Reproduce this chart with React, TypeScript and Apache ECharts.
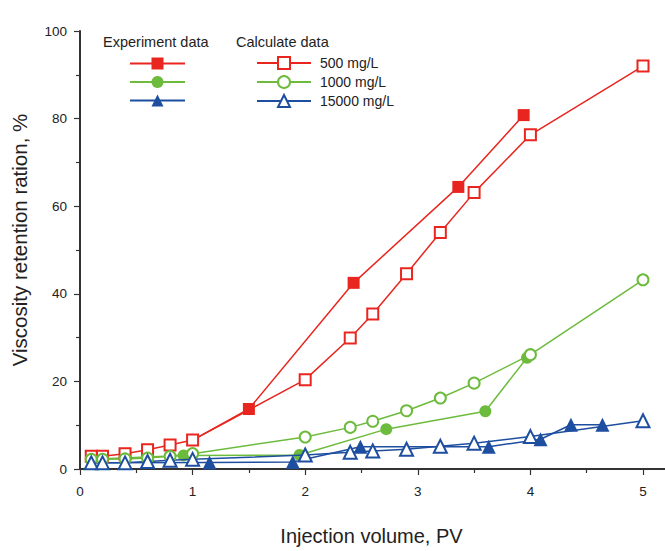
import React, { useEffect, useRef } from "react";
import * as echarts from "echarts";

// Calculated curves share one set of injection volumes (PV)
const calcPV = [0.1, 0.2, 0.4, 0.6, 0.8, 1.0, 2.0, 2.4, 2.6, 2.9, 3.2, 3.5, 4.0, 5.0];
const calc500 = [2.9, 2.9, 3.5, 4.4, 5.5, 6.6, 20.4, 29.9, 35.4, 44.6, 54.0, 63.1, 76.3, 92.0];
const calc1000 = [2.2, 2.2, 2.3, 2.5, 2.9, 3.5, 7.3, 9.5, 10.9, 13.3, 16.2, 19.6, 26.1, 43.2];
const calc15000 = [1.4, 1.4, 1.4, 1.7, 2.0, 2.2, 3.2, 3.8, 4.1, 4.5, 5.2, 5.9, 7.4, 11.0];

// Measured points; each curve starts from a shared point on the calculated curve (no marker)
const exp500PV = [1.0, 1.5, 2.43, 3.36, 3.94];
const exp500 = [6.6, 13.7, 42.5, 64.4, 80.8];
const exp1000PV = [0.1, 0.92, 1.95, 2.72, 3.6, 3.97];
const exp1000 = [2.2, 3.1, 3.2, 9.1, 13.2, 25.4];
const exp15000PV = [0.1, 1.15, 1.89, 2.49, 3.63, 4.09, 4.36, 4.64];
const exp15000 = [1.4, 1.5, 1.6, 5.1, 5.1, 6.8, 10.1, 10.1];

const concentrations = ["500 mg/L", "1000 mg/L", "15000 mg/L"];
const xTicks = [0, 1, 2, 3, 4, 5];

const RED = "#e8261f";
const GREEN = "#6cbb3c";
const BLUE = "#1d4e9f";
const FONT = "'Liberation Sans', Arial, sans-serif";

function pairs(xs: number[], ys: number[], hideFirst: boolean) {
  return xs.map((x, i) =>
    hideFirst && i === 0 ? { value: [x, ys[i]], symbol: "none" } : { value: [x, ys[i]] }
  );
}

export default function App() {
  const ref = useRef<HTMLDivElement>(null);

  useEffect(() => {
    if (!ref.current) return;
    const chart = echarts.init(ref.current, undefined, { renderer: "svg" });

    const expNames = concentrations.map((c) => "Experiment " + c);
    const colors = [RED, GREEN, BLUE];
    const filled = ["rect", "circle", "triangle"];
    const empty = ["emptyRect", "emptyCircle", "emptyTriangle"];
    const sizes = [12, 12, 14];
    const expData = [
      pairs(exp500PV, exp500, true),
      pairs(exp1000PV, exp1000, true),
      pairs(exp15000PV, exp15000, true),
    ];
    const calcData = [calc500, calc1000, calc15000].map((ys) => pairs(calcPV, ys, false));

    const series: any[] = [];
    for (let i = 0; i < 3; i++) {
      series.push({
        name: expNames[i],
        type: "line",
        data: expData[i],
        symbol: filled[i],
        symbolSize: sizes[i],
        color: colors[i],
        lineStyle: { color: colors[i], width: 1.5 },
        itemStyle: { color: colors[i] },
        z: 2,
      });
    }
    for (let i = 0; i < 3; i++) {
      series.push({
        name: concentrations[i],
        type: "line",
        data: calcData[i],
        symbol: empty[i],
        symbolSize: sizes[i] - 1,
        color: colors[i],
        lineStyle: { color: colors[i], width: 1.5 },
        itemStyle: { color: colors[i], borderWidth: 1.6, borderColor: colors[i] },
        z: 3,
      });
    }

    const axisColor = "#333";
    chart.setOption({
      animation: false,
      backgroundColor: "#fff",
      textStyle: { fontFamily: FONT },
      grid: { left: 80, right: 22, top: 31, bottom: 67, containLabel: false },
      legend: [
        {
          data: expNames,
          orient: "vertical",
          left: 129,
          top: 56,
          padding: 0,
          itemWidth: 55,
          itemHeight: 15,
          itemGap: 5,
          formatter: () => "",
          selectedMode: false,
        },
        {
          data: concentrations,
          orient: "vertical",
          left: 256,
          top: 56,
          padding: 0,
          itemWidth: 54,
          itemHeight: 15,
          itemGap: 5,
          selectedMode: false,
          textStyle: { fontSize: 14, color: "#222", fontFamily: FONT, padding: [0, 0, 0, 4] },
        },
      ],
      xAxis: {
        type: "value",
        min: xTicks[0],
        max: xTicks[xTicks.length - 1],
        interval: 1,
        name: "Injection volume, PV",
        nameLocation: "middle",
        nameGap: 57,
        nameTextStyle: { fontSize: 20, color: "#222", fontFamily: FONT, padding: [0, 0, 0, 20] },
        axisLine: { lineStyle: { color: axisColor, width: 2 } },
        axisTick: { show: true, length: 6, lineStyle: { color: axisColor, width: 1.2 } },
        minorTick: { show: true, splitNumber: 2, length: 4, lineStyle: { color: axisColor, width: 1.2 } },
        axisLabel: { fontSize: 13.5, color: "#222", margin: 15, fontFamily: FONT },
        splitLine: { show: false },
      },
      yAxis: {
        type: "value",
        min: 0,
        max: 100,
        interval: 20,
        name: "Viscosity retention ration, %",
        nameLocation: "middle",
        nameGap: 50,
        nameTextStyle: { fontSize: 20.5, color: "#222", fontFamily: FONT, padding: [0, 0, 0, 20] },
        axisLine: { lineStyle: { color: axisColor, width: 2 } },
        axisTick: { show: true, length: 6, lineStyle: { color: axisColor, width: 1.2 } },
        minorTick: { show: true, splitNumber: 2, length: 4, lineStyle: { color: axisColor, width: 1.2 } },
        axisLabel: { fontSize: 13.5, color: "#222", margin: 13, fontFamily: FONT },
        splitLine: { show: false },
      },
      series,
    });

    // Legend headers and the axis line running on past the last tick
    const end = chart.convertToPixel({ xAxisIndex: 0, yAxisIndex: 0 }, [xTicks[xTicks.length - 1], 0]) as number[];
    chart.setOption({
      graphic: [
        {
          type: "text",
          left: 103,
          top: 34,
          style: { text: "Experiment data", fontSize: 14.5, fill: "#222", fontFamily: FONT },
        },
        {
          type: "text",
          left: 236,
          top: 34,
          style: { text: "Calculate data", fontSize: 14.5, fill: "#222", fontFamily: FONT },
        },
        {
          type: "line",
          shape: { x1: end[0], y1: end[1], x2: 665, y2: end[1] },
          style: { stroke: axisColor, lineWidth: 2 },
          silent: true,
        },
      ],
    });

    return () => chart.dispose();
  }, []);

  return (
    <div
      ref={ref}
      style={{ position: "fixed", left: 0, top: 0, width: 665, height: 551, background: "#fff" }}
    />
  );
}
